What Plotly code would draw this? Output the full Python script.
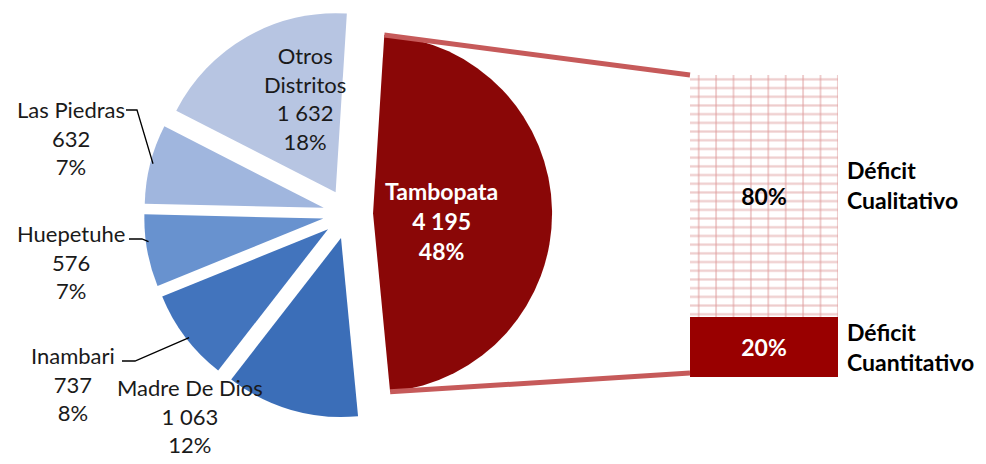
import math
import plotly.graph_objects as go

# page body has an 8px default margin; figure sized to fit the 986x464 window
OFF = 8
W, H = 986 - OFF, 464 - OFF

# ---------------- data ----------------
districts = ["Tambopata", "Madre De Dios", "Inambari", "Huepetuhe", "Las Piedras", "Otros Distritos"]
households = [4195, 1063, 737, 576, 632, 1632]
district_pct = ["48%", "12%", "8%", "7%", "7%", "18%"]

deficit_types = ["Déficit Cuantitativo", "Déficit Cualitativo"]
deficit_pct = [20, 80]

# ---------------- style ----------------
slice_colors = ["#8A0707", "#3B6EB8", "#4274BD", "#6892CF", "#A0B6DE", "#B7C5E2"]
FONT = "Lato"
PIE_CX, PIE_CY, PIE_R, PULL, ROT = 348, 214, 179, 0.14, 3.6
BAR_L, BAR_R, BAR_T, BAR_B = 690, 838, 75, 377
PINK = "#DE9A9A"
DARKRED = "#990000"
LINK = "#C65A5A"


def px(x):
    return (x - OFF) / W


def py(y):
    return 1 - (y - OFF) / H


def fmt(v):
    return f"{v:,}".replace(",", " ")


side = 2 * PIE_R * (1 + PULL)
pie_domain = dict(
    x=[px(PIE_CX - side / 2), px(PIE_CX + side / 2)],
    y=[py(PIE_CY + side / 2), py(PIE_CY - side / 2)],
)

fig = go.Figure()
fig.add_trace(go.Pie(
    labels=districts,
    values=households,
    sort=False,
    direction="clockwise",
    rotation=ROT,
    pull=[PULL] * len(districts),
    marker=dict(colors=slice_colors, line=dict(width=0)),
    textinfo="none",
    hoverinfo="label+value",
    domain=pie_domain,
    showlegend=False,
))

# stacked deficit bar
xa = dict(domain=[px(BAR_L), px(BAR_R)], range=[-0.5, 0.5], visible=False, fixedrange=True)
ya = dict(domain=[py(BAR_B), py(BAR_T)], range=[0, sum(deficit_pct)], visible=False, fixedrange=True)

fig.add_trace(go.Bar(
    x=[0], y=[deficit_pct[0]], base=[0], width=1,
    marker=dict(color=DARKRED, line=dict(width=0)),
    text=[f"{deficit_pct[0]}%"], textposition="inside", insidetextanchor="middle",
    textfont=dict(family=FONT, size=23, color="white", weight="bold"),
    showlegend=False, name=deficit_types[0],
))
fig.add_trace(go.Bar(
    x=[0], y=[deficit_pct[1]], base=[deficit_pct[0]], width=1,
    marker=dict(color="white", line=dict(width=0),
                pattern=dict(shape="-", fgcolor=PINK, bgcolor="white", size=8.7, solidity=0.26)),
    showlegend=False, name=deficit_types[1],
))
fig.add_trace(go.Bar(
    x=[0], y=[deficit_pct[1]], base=[deficit_pct[0]], width=1,
    marker=dict(color="rgba(0,0,0,0)", line=dict(width=0),
                pattern=dict(shape="|", fgcolor=PINK, bgcolor="rgba(0,0,0,0)", size=17.4, solidity=0.11)),
    text=[f"{deficit_pct[1]}%"], textposition="inside", insidetextanchor="middle",
    textfont=dict(family=FONT, size=23, color="black", weight="bold"),
    showlegend=False, name=deficit_types[1],
))

# ---------------- pie geometry (for links and leaders) ----------------
total = sum(households)
angles = []
a = ROT
for v in households:
    span = 360 * v / total
    angles.append((a, a + span))
    a += span


def slice_point(i, theta, rfrac=1.0):
    a0, a1 = angles[i]
    mid = math.radians((a0 + a1) / 2)
    ox = PIE_CX + PULL * PIE_R * math.sin(mid)
    oy = PIE_CY - PULL * PIE_R * math.cos(mid)
    t = math.radians(theta)
    return ox + rfrac * PIE_R * math.sin(t), oy - rfrac * PIE_R * math.cos(t)


shapes = []
top = slice_point(0, angles[0][0])
bot = slice_point(0, angles[0][1])
for (x0, y0), (x1, y1) in [(top, (BAR_L, BAR_T)), (bot, (BAR_L, BAR_B - 4))]:
    shapes.append(dict(type="line", xref="paper", yref="paper",
                       x0=px(x0), y0=py(y0), x1=px(x1), y1=py(y1),
                       line=dict(color=LINK, width=5)))

# leader lines (label end -> slice edge)
leaders = {
    4: [(126, 110), (137, 110)],
    3: [(129, 239), (142, 239)],
    2: [(122, 361), (135, 361)],
}
leader_theta = {4: 284.5, 3: 262.5, 2: 232}
for i, pts in leaders.items():
    ex, ey = slice_point(i, leader_theta[i], 0.985)
    allp = pts + [(ex, ey)]
    path = "M " + " L ".join(f"{px(x):.5f},{py(y):.5f}" for x, y in allp)
    shapes.append(dict(type="path", xref="paper", yref="paper", path=path,
                       line=dict(color="black", width=1.3)))

# ---------------- labels ----------------
label_pos = {
    0: (441, 221, "white", True),
    1: (190, 416, "#1a1a1a", False),
    2: (73, 384, "#1a1a1a", False),
    3: (71, 262, "#1a1a1a", False),
    4: (71, 138, "#1a1a1a", False),
    5: (305, 98, "#1a1a1a", False),
}
annotations = []
for i, name in enumerate(districts):
    x, y, col, bold = label_pos[i]
    nm = name.replace(" ", "<br>") if name.startswith("Otros") else name
    txt = f"{nm}<br>{fmt(households[i])}<br>{district_pct[i]}"
    annotations.append(dict(
        x=px(x), y=py(y), xref="paper", yref="paper", text=txt, showarrow=False,
        xanchor="center", yanchor="middle", align="center",
        font=dict(family=FONT, size=23 if bold else 22, color=col, weight="bold" if bold else "normal"),
    ))

for i, (lbl, yoff) in enumerate(zip(deficit_types, [0, -11])):
    base = sum(deficit_pct[:i])
    w1, w2 = lbl.split(" ")
    annotations.append(dict(
        x=px(845), xref="paper", y=base + deficit_pct[i] / 2, yref="y", yshift=-yoff,
        text=f"{w1}<br>{w2}", showarrow=False, xanchor="left", yanchor="middle", align="left",
        font=dict(family=FONT, size=23, color="black", weight="bold"),
    ))

fig.update_layout(
    width=W, height=H,
    margin=dict(l=0, r=0, t=0, b=0),
    paper_bgcolor="white", plot_bgcolor="rgba(0,0,0,0)",
    barmode="overlay", bargap=0,
    xaxis=xa, yaxis=ya,
    shapes=shapes, annotations=annotations,
    showlegend=False,
    font=dict(family=FONT),
)

fig.write_html("out.html")
